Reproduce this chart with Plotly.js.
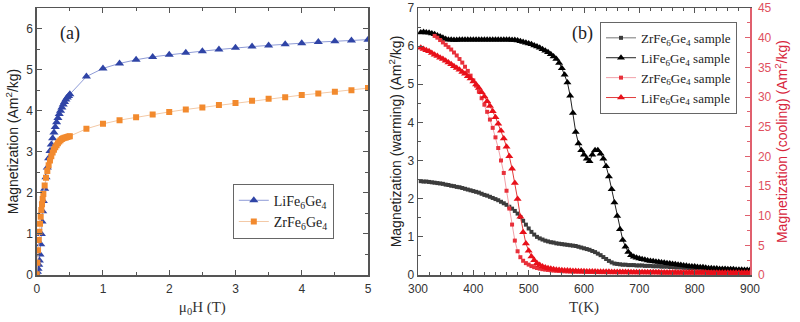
<!DOCTYPE html>
<html>
<head>
<meta charset="utf-8">
<script src="https://cdn.plot.ly/plotly-3.0.1.min.js"></script>
<style>
  html, body { margin: 0; padding: 0; background: #fff; }
  #chart { width: 800px; height: 322px; }
</style>
</head>
<body>
<div id="chart"></div>
<script>
// (a) Field dependence of magnetization
const fieldT = [0, 0.01, 0.02, 0.03, 0.04, 0.05, 0.06, 0.07, 0.08, 0.09,
  0.10, 0.12, 0.14, 0.16, 0.18, 0.20, 0.22, 0.24, 0.26, 0.28,
  0.30, 0.32, 0.34, 0.36, 0.38, 0.40, 0.42, 0.44, 0.46, 0.48,
  0.50, 0.75, 1.00, 1.25, 1.50, 1.75, 2.00, 2.25, 2.50, 2.75,
  3.00, 3.25, 3.50, 3.75, 4.00, 4.25, 4.50, 4.75, 5.00];

const magLiFe = [0.02, 0.08, 0.15, 0.25, 0.35, 0.50, 0.75, 1.00, 1.30, 1.55,
  1.80, 2.10, 2.38, 2.62, 2.84, 3.02, 3.18, 3.33, 3.47, 3.60,
  3.72, 3.82, 3.92, 4.00, 4.08, 4.15, 4.21, 4.27, 4.32, 4.36,
  4.40, 4.83, 5.03, 5.15, 5.24, 5.31, 5.36, 5.41, 5.45, 5.49,
  5.53, 5.56, 5.59, 5.62, 5.64, 5.67, 5.69, 5.71, 5.73];

const magZrFe = [0.02, 0.30, 0.60, 0.85, 1.05, 1.25, 1.42, 1.58, 1.72, 1.85,
  1.97, 2.18, 2.37, 2.53, 2.67, 2.79, 2.89, 2.98, 3.05, 3.11,
  3.16, 3.21, 3.25, 3.28, 3.31, 3.33, 3.34, 3.35, 3.36, 3.37,
  3.38, 3.56, 3.68, 3.77, 3.84, 3.91, 3.97, 4.03, 4.08, 4.14,
  4.19, 4.24, 4.29, 4.33, 4.38, 4.42, 4.46, 4.50, 4.55];

// (b) Temperature dependence (warming: left axis, cooling: right axis)
const tempK = [305, 310, 315, 320, 325, 330, 335, 340, 345, 350,
  355, 360, 365, 370, 375, 380, 385, 390, 395, 400,
  405, 410, 415, 420, 425, 430, 435, 440, 445, 450,
  455, 460, 465, 470, 475, 480, 485, 490, 495, 500,
  505, 510, 515, 520, 525, 530, 535, 540, 545, 550,
  555, 560, 565, 570, 575, 580, 585, 590, 595, 600,
  605, 610, 615, 620, 625, 630, 635, 640, 645, 650,
  655, 660, 665, 670, 675, 680, 685, 690, 695, 700,
  705, 710, 715, 720, 725, 730, 735, 740, 745, 750,
  755, 760, 765, 770, 775, 780, 785, 790, 795, 800,
  805, 810, 815, 820, 825, 830, 835, 840, 845, 850,
  855, 860, 865, 870, 875, 880, 885, 890, 895, 900];

const zrWarming = [2.46, 2.45, 2.45, 2.44, 2.43, 2.42, 2.41, 2.40, 2.39, 2.37,
  2.36, 2.34, 2.33, 2.31, 2.30, 2.28, 2.26, 2.24, 2.22, 2.20,
  2.18, 2.16, 2.13, 2.10, 2.08, 2.05, 2.02, 1.99, 1.96, 1.92,
  1.88, 1.84, 1.79, 1.74, 1.68, 1.61, 1.52, 1.42, 1.32, 1.22,
  1.13, 1.06, 1.00, 0.96, 0.93, 0.90, 0.88, 0.86, 0.85, 0.83,
  0.82, 0.81, 0.80, 0.79, 0.78, 0.77, 0.76, 0.74, 0.72, 0.70,
  0.68, 0.66, 0.63, 0.60, 0.56, 0.52, 0.47, 0.42, 0.37, 0.33,
  0.30, 0.29, 0.28, 0.27, 0.27, 0.26, 0.26, 0.26, 0.25, 0.25,
  0.25, 0.24, 0.24, 0.24, 0.23, 0.23, 0.23, 0.22, 0.22, 0.22,
  0.21, 0.21, 0.20, 0.20, 0.20, 0.19, 0.19, 0.18, 0.18, 0.18,
  0.17, 0.17, 0.16, 0.16, 0.16, 0.15, 0.15, 0.15, 0.15, 0.14,
  0.14, 0.14, 0.14, 0.13, 0.13, 0.13, 0.13, 0.13, 0.12, 0.12];

const liWarming = [6.36, 6.37, 6.36, 6.35, 6.33, 6.31, 6.28, 6.25, 6.22, 6.19,
  6.17, 6.17, 6.16, 6.16, 6.17, 6.17, 6.17, 6.17, 6.17, 6.17,
  6.17, 6.17, 6.17, 6.17, 6.17, 6.17, 6.17, 6.17, 6.17, 6.17,
  6.17, 6.17, 6.17, 6.16, 6.16, 6.15, 6.13, 6.11, 6.09, 6.07,
  6.05, 6.02, 5.99, 5.96, 5.92, 5.88, 5.84, 5.79, 5.73, 5.66,
  5.56, 5.42, 5.25, 5.05, 4.70, 4.25, 3.75, 3.45, 3.27, 3.15,
  3.05, 2.98, 3.15, 3.27, 3.27, 3.18, 3.05, 2.85, 2.58, 2.25,
  1.90, 1.55, 1.20, 0.92, 0.74, 0.60, 0.52, 0.48, 0.45, 0.43,
  0.41, 0.40, 0.38, 0.37, 0.36, 0.35, 0.34, 0.33, 0.32, 0.31,
  0.30, 0.29, 0.28, 0.27, 0.26, 0.25, 0.24, 0.23, 0.22, 0.22,
  0.21, 0.20, 0.20, 0.19, 0.18, 0.18, 0.17, 0.17, 0.16, 0.16,
  0.16, 0.15, 0.15, 0.15, 0.14, 0.14, 0.14, 0.13, 0.13, 0.13];

const zrCooling = [null, null, null, null, null, 40.3, 40.0, 39.6, 39.2, 38.8,
  38.4, 38.0, 37.5, 37.0, 36.4, 35.8, 35.1, 34.4, 33.6, 32.8,
  31.9, 30.9, 29.8, 28.7, 27.5, 26.2, 24.8, 23.2, 21.4, 19.3,
  17.2, 14.2, 11.2, 8.5, 5.8, 4.0, 3.0, 2.4, 2.0, 1.75,
  1.50, 1.32, 1.18, 1.07, 0.98, 0.91, 0.85, 0.80, 0.75, 0.71,
  0.68, 0.65, 0.62, 0.60, 0.58, 0.56, 0.55, 0.54, 0.53, 0.52,
  0.51, 0.50, 0.50, 0.49, 0.49, 0.48, 0.48, 0.47, 0.47, 0.46,
  0.46, 0.46, 0.45, 0.45, 0.45, 0.44, 0.44, 0.44, 0.43, 0.43,
  0.43, 0.42, 0.42, 0.42, 0.41, 0.41, 0.41, 0.40, 0.40, 0.40,
  0.40, 0.39, 0.39, 0.39, 0.39, 0.38, 0.38, 0.38, 0.38, 0.37,
  0.37, 0.37, 0.37, 0.36, 0.36, 0.36, 0.36, 0.36, 0.35, 0.35,
  0.35, 0.35, 0.35, 0.34, 0.34, 0.34, 0.34, 0.34, 0.33, 0.33];

const liCooling = [38.3, 38.1, 37.9, 37.7, 37.4, 37.1, 36.9, 36.6, 36.4, 36.1,
  35.8, 35.5, 35.2, 34.9, 34.6, 34.2, 33.9, 33.5, 33.1, 32.6,
  32.1, 31.5, 30.8, 30.1, 29.3, 28.5, 27.6, 26.6, 25.5, 24.3,
  23.0, 21.6, 20.0, 17.9, 15.5, 12.8, 9.8, 7.2, 5.3, 4.1,
  3.1, 2.5, 2.0, 1.7, 1.45, 1.27, 1.14, 1.04, 0.96, 0.90,
  0.85, 0.81, 0.77, 0.74, 0.71, 0.69, 0.67, 0.65, 0.63, 0.62,
  0.60, 0.59, 0.58, 0.57, 0.56, 0.55, 0.54, 0.53, 0.53, 0.52,
  0.51, 0.51, 0.50, 0.50, 0.49, 0.49, 0.48, 0.48, 0.47, 0.47,
  0.47, 0.46, 0.46, 0.46, 0.45, 0.45, 0.45, 0.44, 0.44, 0.44,
  0.44, 0.43, 0.43, 0.43, 0.43, 0.42, 0.42, 0.42, 0.42, 0.41,
  0.41, 0.41, 0.41, 0.41, 0.40, 0.40, 0.40, 0.40, 0.40, 0.39,
  0.39, 0.39, 0.39, 0.39, 0.38, 0.38, 0.38, 0.38, 0.38, 0.38];

const nameLi = 'LiFe<sub>6</sub>Ge<sub>4</sub>';
const nameZr = 'ZrFe<sub>6</sub>Ge<sub>4</sub>';

const SANS = 'Liberation Sans, Arial, sans-serif';
const SERIF = 'Liberation Serif, Times New Roman, serif';
const AXIS = '#555';
const RED = '#d7263d';
const RED_AXIS = '#e0606e';

const traces = [
  { x: fieldT, y: magLiFe, xaxis: 'x', yaxis: 'y', legend: 'legend',
    name: nameLi, mode: 'lines+markers',
    line: { color: '#8e9bd6', width: 1 },
    marker: { symbol: 'triangle-up', size: 8, color: '#2f44a6' } },
  { x: fieldT, y: magZrFe, xaxis: 'x', yaxis: 'y', legend: 'legend',
    name: nameZr, mode: 'lines+markers',
    line: { color: '#f3c9a6', width: 1 },
    marker: { symbol: 'square', size: 6, color: '#f28a2e' } },

  { x: tempK, y: zrWarming, xaxis: 'x2', yaxis: 'y2', legend: 'legend2',
    name: nameZr + ' sample', mode: 'lines+markers',
    line: { color: '#777', width: 1 },
    marker: { symbol: 'square', size: 4, color: '#3c3c3c' } },
  { x: tempK, y: liWarming, xaxis: 'x2', yaxis: 'y2', legend: 'legend2',
    name: nameLi + ' sample', mode: 'lines+markers',
    line: { color: '#222', width: 1 },
    marker: { symbol: 'triangle-up', size: 7, color: '#000' } },
  { x: tempK, y: zrCooling, xaxis: 'x2', yaxis: 'y3', legend: 'legend2',
    name: nameZr + ' sample', mode: 'lines+markers',
    line: { color: '#f2a0a8', width: 1 },
    marker: { symbol: 'square', size: 4, color: '#e8303a' } },
  { x: tempK, y: liCooling, xaxis: 'x2', yaxis: 'y3', legend: 'legend2',
    name: nameLi + ' sample', mode: 'lines+markers',
    line: { color: '#e23a3a', width: 1 },
    marker: { symbol: 'triangle-up', size: 7, color: '#e8101a' } }
];

function axisBase(extra) {
  return Object.assign({
    showline: true, linecolor: AXIS, linewidth: 1.5,
    ticks: 'inside', ticklen: 5, tickwidth: 1, tickcolor: AXIS,
    showgrid: false, zeroline: false,
    tickfont: { family: SANS, size: 12, color: '#333' }
  }, extra);
}

function legendStyle(size) {
  return {
    bgcolor: '#fff', bordercolor: '#666', borderwidth: 1,
    font: { family: SERIF, size: size, color: '#222' },
    xanchor: 'left', yanchor: 'top', tracegroupgap: 0
  };
}

const layout = {
  width: 800, height: 322,
  margin: { l: 0, r: 0, t: 8, b: 47 },
  paper_bgcolor: '#fff', plot_bgcolor: '#fff',
  showlegend: true,
  xaxis: axisBase({
    domain: [0.0459, 0.46], range: [0, 5], dtick: 1, anchor: 'y', mirror: 'ticks',
    ticklabelstandoff: 2,
    minor: { dtick: 0.5, ticks: 'inside', ticklen: 3, tickcolor: AXIS },
    title: { text: 'μ<sub>0</sub>H (T)', font: { family: SERIF, size: 15, color: '#333' }, standoff: 6 }
  }),
  yaxis: axisBase({
    domain: [0, 1], range: [0, 6.5], dtick: 1, anchor: 'x', mirror: 'ticks',
    minor: { dtick: 0.5, ticks: 'inside', ticklen: 3, tickcolor: AXIS },
    title: { text: 'Magnetization (Am<sup>2</sup>/kg)', font: { family: SANS, size: 14, color: '#222' }, standoff: 4 }
  }),
  xaxis2: axisBase({
    domain: [0.5225, 0.9375], range: [300, 900], dtick: 100, anchor: 'y2', mirror: 'ticks',
    ticklabelstandoff: 2,
    minor: { dtick: 20, ticks: 'inside', ticklen: 3, tickcolor: AXIS },
    title: { text: 'T(K)', font: { family: SERIF, size: 15, color: '#333' }, standoff: 6 }
  }),
  yaxis2: axisBase({
    domain: [0, 1], range: [0, 7], dtick: 1, anchor: 'x2', mirror: false,
    minor: { dtick: 0.5, ticks: 'inside', ticklen: 3, tickcolor: AXIS },
    title: { text: 'Magnetization (warming) (Am<sup>2</sup>/kg)', font: { family: SANS, size: 14, color: '#222' }, standoff: 2 }
  }),
  yaxis3: axisBase({
    overlaying: 'y2', side: 'right', anchor: 'x2',
    range: [0, 45], dtick: 5, linecolor: RED_AXIS, tickcolor: RED_AXIS,
    ticklabelstandoff: 4,
    tickfont: { family: SANS, size: 12, color: '#e0505e' },
    minor: { dtick: 2.5, ticks: 'inside', ticklen: 3, tickcolor: RED_AXIS },
    title: { text: 'Magnetization (cooling) (Am<sup>2</sup>/kg)', font: { family: SANS, size: 14, color: RED }, standoff: 6 }
  }),
  legend: Object.assign({ x: 0.291, y: 0.342 }, legendStyle(14)),
  legend2: Object.assign({ x: 0.75, y: 0.948 }, legendStyle(13)),
  annotations: [
    { text: '(a)', xref: 'paper', yref: 'paper', x: 0.0875, y: 0.906,
      xanchor: 'center', yanchor: 'middle',
      showarrow: false, font: { family: SERIF, size: 18, color: '#222' } },
    { text: '(b)', xref: 'paper', yref: 'paper', x: 0.7275, y: 0.906,
      xanchor: 'center', yanchor: 'middle',
      showarrow: false, font: { family: SERIF, size: 18, color: '#222' } }
  ]
};

Plotly.newPlot('chart', traces, layout, { displayModeBar: false, staticPlot: true });
</script>
</body>
</html>
